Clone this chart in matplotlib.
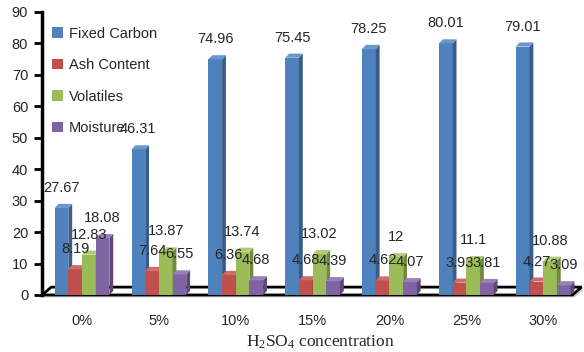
import numpy as np
import matplotlib.pyplot as plt
from matplotlib.patches import Polygon

# Proximate analysis vs acid concentration
categories = ['0%', '5%', '10%', '15%', '20%', '25%', '30%']
fixed_carbon = [27.67, 46.31, 74.96, 75.45, 78.25, 80.01, 79.01]
ash_content = [8.19, 7.64, 6.36, 4.68, 4.62, 3.93, 4.27]
volatiles = [12.83, 13.87, 13.74, 13.02, 12, 11.1, 10.88]
moisture = [18.08, 6.55, 4.68, 4.39, 4.07, 3.81, 3.09]

# name, values, front / side / top colours
series = [
    ('Fixed Carbon', fixed_carbon, '#4F81BD', '#385D8A', '#6A96CC'),
    ('Ash Content', ash_content, '#C0504D', '#8C3836', '#D06B68'),
    ('Volatiles', volatiles, '#9BBB59', '#71893F', '#B0CC74'),
    ('Moisture', moisture, '#8064A2', '#5C4776', '#9A80B8'),
]

plt.rcParams['font.family'] = 'Liberation Sans'
plt.rcParams['mathtext.fontset'] = 'custom'
plt.rcParams['mathtext.rm'] = 'Liberation Serif'
TXT = '#262626'

fig = plt.figure(figsize=(5.84, 3.52), dpi=100)
ax = fig.add_axes([0.072, 0.162, 0.92, 0.804])

x = np.arange(len(categories))
w = 0.178          # bar width (data units)
dx = 0.05          # depth offset, x
dy = 1.3           # depth offset, y

# floor of the 3D box
x0, x1 = -0.52, 6.38
fdx, fdy = 0.12, 2.5
ax.add_patch(Polygon([(x0 + 0.03, -0.8), (x1 + 0.03, -0.8), (x1 + fdx + 0.03, fdy - 0.8),
                      (x0 + fdx, fdy - 0.8)], closed=True, facecolor='#cfcfcf',
                     edgecolor='none', zorder=1, clip_on=False))
ax.add_patch(Polygon([(x0, 0), (x1, 0), (x1 + fdx, fdy), (x0 + fdx, fdy)], closed=True,
                     facecolor='white', edgecolor='black', linewidth=2, zorder=2,
                     clip_on=False, joinstyle='miter'))

z = 3
for gi in range(len(categories)):
    for si, (name, vals, col, side_col, top_col) in enumerate(series):
        v = vals[gi]
        cx = x[gi] + (si - 1.5) * w
        l, r = cx - w / 2, cx + w / 2
        ax.bar(cx, v, w, color=col, zorder=z, label=name if gi == 0 else None,
               linewidth=0)
        ax.add_patch(Polygon([(r, 0), (r + dx, dy), (r + dx, v + dy), (r, v)],
                             closed=True, facecolor=side_col, edgecolor='none', zorder=z))
        ax.add_patch(Polygon([(l, v), (r, v), (r + dx, v + dy), (l + dx, v + dy)],
                             closed=True, facecolor=top_col, edgecolor='none', zorder=z))
        z += 1

# value labels
for si, (name, vals, col, side_col, top_col) in enumerate(series):
    for gi, v in enumerate(vals):
        cx = x[gi] + (si - 1.5) * w
        ax.annotate(f'{v:g}', (cx, v), xytext=(0, 14.4), textcoords='offset points',
                    ha='center', va='center', fontsize=10.5, color=TXT, zorder=100)

ax.set_xlim(-0.52, 6.47)
ax.set_ylim(0, 90)
ax.set_yticks(np.arange(0, 91, 10))
ax.set_xticks(x)
ax.set_xticklabels(categories)
ax.tick_params(axis='x', length=0, pad=14, labelsize=10.5, labelcolor=TXT)
ax.tick_params(axis='y', length=6, width=2, pad=4, labelsize=10.5, labelcolor=TXT,
               color='black')
for s in ['top', 'right', 'bottom']:
    ax.spines[s].set_visible(False)
ax.spines['left'].set_linewidth(2.5)
ax.set_facecolor('none')

fig.text(0.548, 0.028, r'$\mathrm{H_2SO_4}$ concentration', family='Liberation Serif',
         fontsize=12.5, color=TXT, ha='center', va='center')

leg = ax.legend(loc='upper left', bbox_to_anchor=(-0.005, 0.995), frameon=False,
                fontsize=10.5, handlelength=0.7, handleheight=0.7, handletextpad=0.4,
                labelspacing=1.2, borderaxespad=0.5)
for t in leg.get_texts():
    t.set_color(TXT)

fig.savefig('out.png', dpi=100)
